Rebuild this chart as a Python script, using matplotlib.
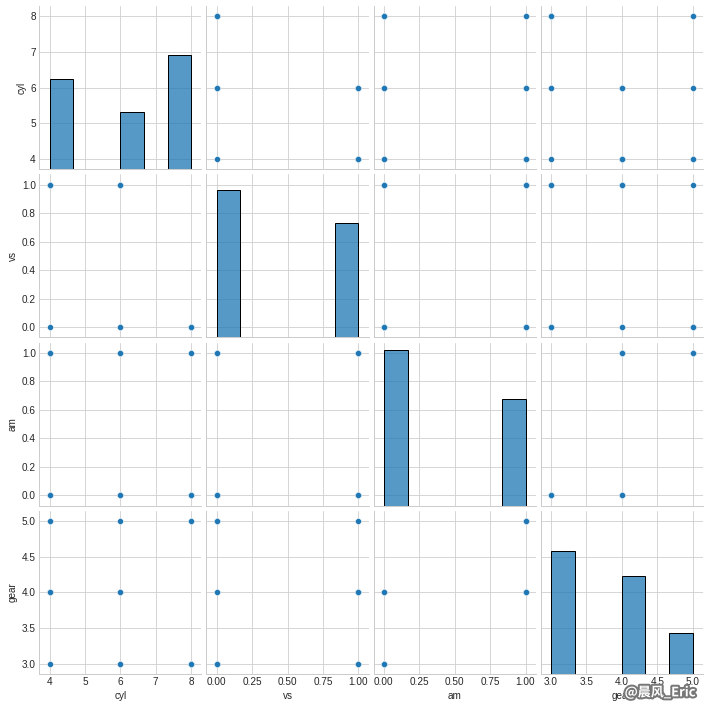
import matplotlib

matplotlib.use("Agg")
import matplotlib.pyplot as plt
import matplotlib.patheffects as pe
import pandas as pd
import seaborn as sns

# mtcars columns used in the pair plot (32 cars)
cyl = [6, 6, 4, 6, 8, 6, 8, 4, 4, 6, 6, 8, 8, 8, 8, 8,
       8, 4, 4, 4, 4, 8, 8, 8, 8, 4, 4, 4, 8, 6, 8, 4]
vs = [0, 0, 1, 1, 0, 1, 0, 1, 1, 1, 1, 0, 0, 0, 0, 0,
      0, 1, 1, 1, 1, 0, 0, 0, 0, 1, 0, 1, 0, 0, 0, 1]
am = [1, 1, 1, 0, 0, 0, 0, 0, 0, 0, 0, 0, 0, 0, 0, 0,
      0, 1, 1, 1, 0, 0, 0, 0, 0, 1, 1, 1, 1, 1, 1, 1]
gear = [4, 4, 4, 3, 3, 3, 3, 4, 4, 4, 4, 3, 3, 3, 3, 3,
        3, 4, 4, 4, 3, 3, 3, 3, 3, 4, 5, 5, 5, 5, 5, 4]

plt.style.use("seaborn-v0_8-whitegrid")
plt.rcParams["font.family"] = ["Liberation Sans", "DejaVu Sans"]
plt.rcParams["font.size"] = 10

df = pd.DataFrame({"cyl": cyl, "vs": vs, "am": am, "gear": gear})
cols = list(df.columns)
grid = sns.pairplot(df, height=2.5)
fig = grid.figure
fig.set_size_inches(709 / 72, 709 / 72)
fig.subplots_adjust(left=0.0554, right=0.9915, top=0.9915, bottom=0.0494,
                    wspace=0.031, hspace=0.031)

# old-matplotlib style padding (a bit wider than the 5% default)
pad = 0.0725
for i, name in enumerate(cols):
    lo, hi = df[name].min(), df[name].max()
    span = hi - lo
    lim = (lo - pad * span, hi + pad * span)
    for j in range(len(cols)):
        grid.axes[j, i].set_xlim(lim)
        grid.axes[i, j].set_ylim(lim)

fig.text(0.931, 0.023, "@晨风_Eric", ha="center", va="center", fontsize=13,
         fontweight="bold", color="white",
         family=["Noto Sans CJK SC", "DejaVu Sans"],
         path_effects=[pe.withStroke(linewidth=4, foreground="#777777")])

fig.savefig("out.png", dpi=72)
